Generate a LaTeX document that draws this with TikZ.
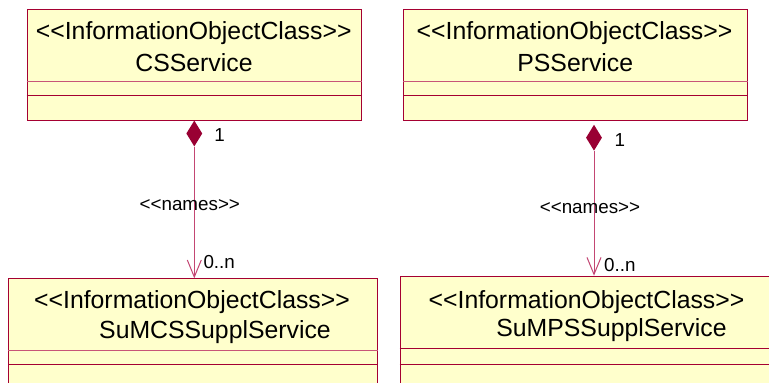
\documentclass[tikz,border=0pt]{standalone}
\usepackage{fontspec}
\setmainfont{Liberation Sans}[Ligatures=TeXOff]
\usetikzlibrary{shapes.geometric,arrows.meta}
\definecolor{bord}{RGB}{165,0,50}
\definecolor{divl}{RGB}{200,85,120}
\definecolor{conn}{RGB}{195,70,115}
\definecolor{fillc}{RGB}{255,255,204}
\definecolor{dia}{RGB}{153,0,51}
\tikzset{
  classbox/.style={draw=bord, fill=fillc, line width=1pt, inner sep=0pt, anchor=north west},
  divider/.style={draw=bord, line width=1pt},
  divlight/.style={draw=divl, line width=1pt},
  title/.style={font=\fontsize{24.8}{30}\selectfont, anchor=base, inner sep=0pt},
  small/.style={font=\fontsize{18.8}{22}\selectfont, anchor=base, inner sep=0pt},
  comp/.style={diamond, fill=dia, draw=none, inner sep=0pt, minimum width=16pt, minimum height=26pt, anchor=north},
  assoc/.style={draw=conn, line width=1pt, -{Straight Barb[length=17pt,width=14pt,line width=1pt]}}
}
\begin{document}
\begin{tikzpicture}[x=1pt,y=-1pt]
\clip (0,0) rectangle (769,383);
\fill[white] (0,0) rectangle (769,383);
% boxes
\node[classbox, minimum width=334pt, minimum height=110.7pt] (cs) at (26.7,9.3) {};
\node[classbox, minimum width=344.3pt, minimum height=110.7pt] (ps) at (403,9.3) {};
\node[classbox, minimum width=368.4pt, minimum height=130pt] (scs) at (8.3,278.3) {};
\node[classbox, minimum width=400pt, minimum height=130pt] (sps) at (399.7,275.7) {};
% dividers
\draw[divlight] (cs.west |- 0,81.3) -- (cs.east |- 0,81.3);
\draw[divider] (cs.west |- 0,95.3) -- (cs.east |- 0,95.3);
\draw[divlight] (ps.west |- 0,81.3) -- (ps.east |- 0,81.3);
\draw[divider] (ps.west |- 0,95.3) -- (ps.east |- 0,95.3);
\draw[divlight] (scs.west |- 0,350.7) -- (scs.east |- 0,350.7);
\draw[divider] (scs.west |- 0,364) -- (scs.east |- 0,364);
\draw[divider] (sps.west |- 0,348.3) -- (sps.east |- 0,348.3);
\draw[divider] (sps.west |- 0,364) -- (sps.east |- 0,364);
% titles
\node[title] (cs1) at (193.7,39.3) {<<InformationObjectClass>>};
\node[title] (cs2) at (194,71) {CSService};
\node[title] (ps1) at (574.5,39.3) {<<InformationObjectClass>>};
\node[title] (ps2) at (575.3,71) {PSService};
\node[title] (scs1) at (192,308.3) {<<InformationObjectClass>>};
\node[title] (scs2) at (215,338.3) {SuMCSSupplService};
\node[title] (sps1) at (586.5,308.3) {<<InformationObjectClass>>};
\node[title] (sps2) at (611.5,336.7) {SuMPSSupplService};
% composition diamonds
\node[comp] (d1) at (194.3,120.3) {};
\node[comp] (d2) at (594,124.5) {};
% connectors
\draw[assoc] (d1.south) -- (d1.south |- scs.north);
\draw[assoc] (d2.south) -- (d2.south |- sps.north);
% labels
\node[small] (m1) at (219.5,141.7) {1};
\node[small] (m2) at (619.8,146) {1};
\node[small] (n1) at (189.8,210.7) {<<names>>};
\node[small] (n2) at (590,213.3) {<<names>>};
\node[small, anchor=base west] (z1) at (203.3,268.3) {0..n};
\node[small, anchor=base west] (z2) at (604,271.7) {0..n};
\end{tikzpicture}
\end{document}
